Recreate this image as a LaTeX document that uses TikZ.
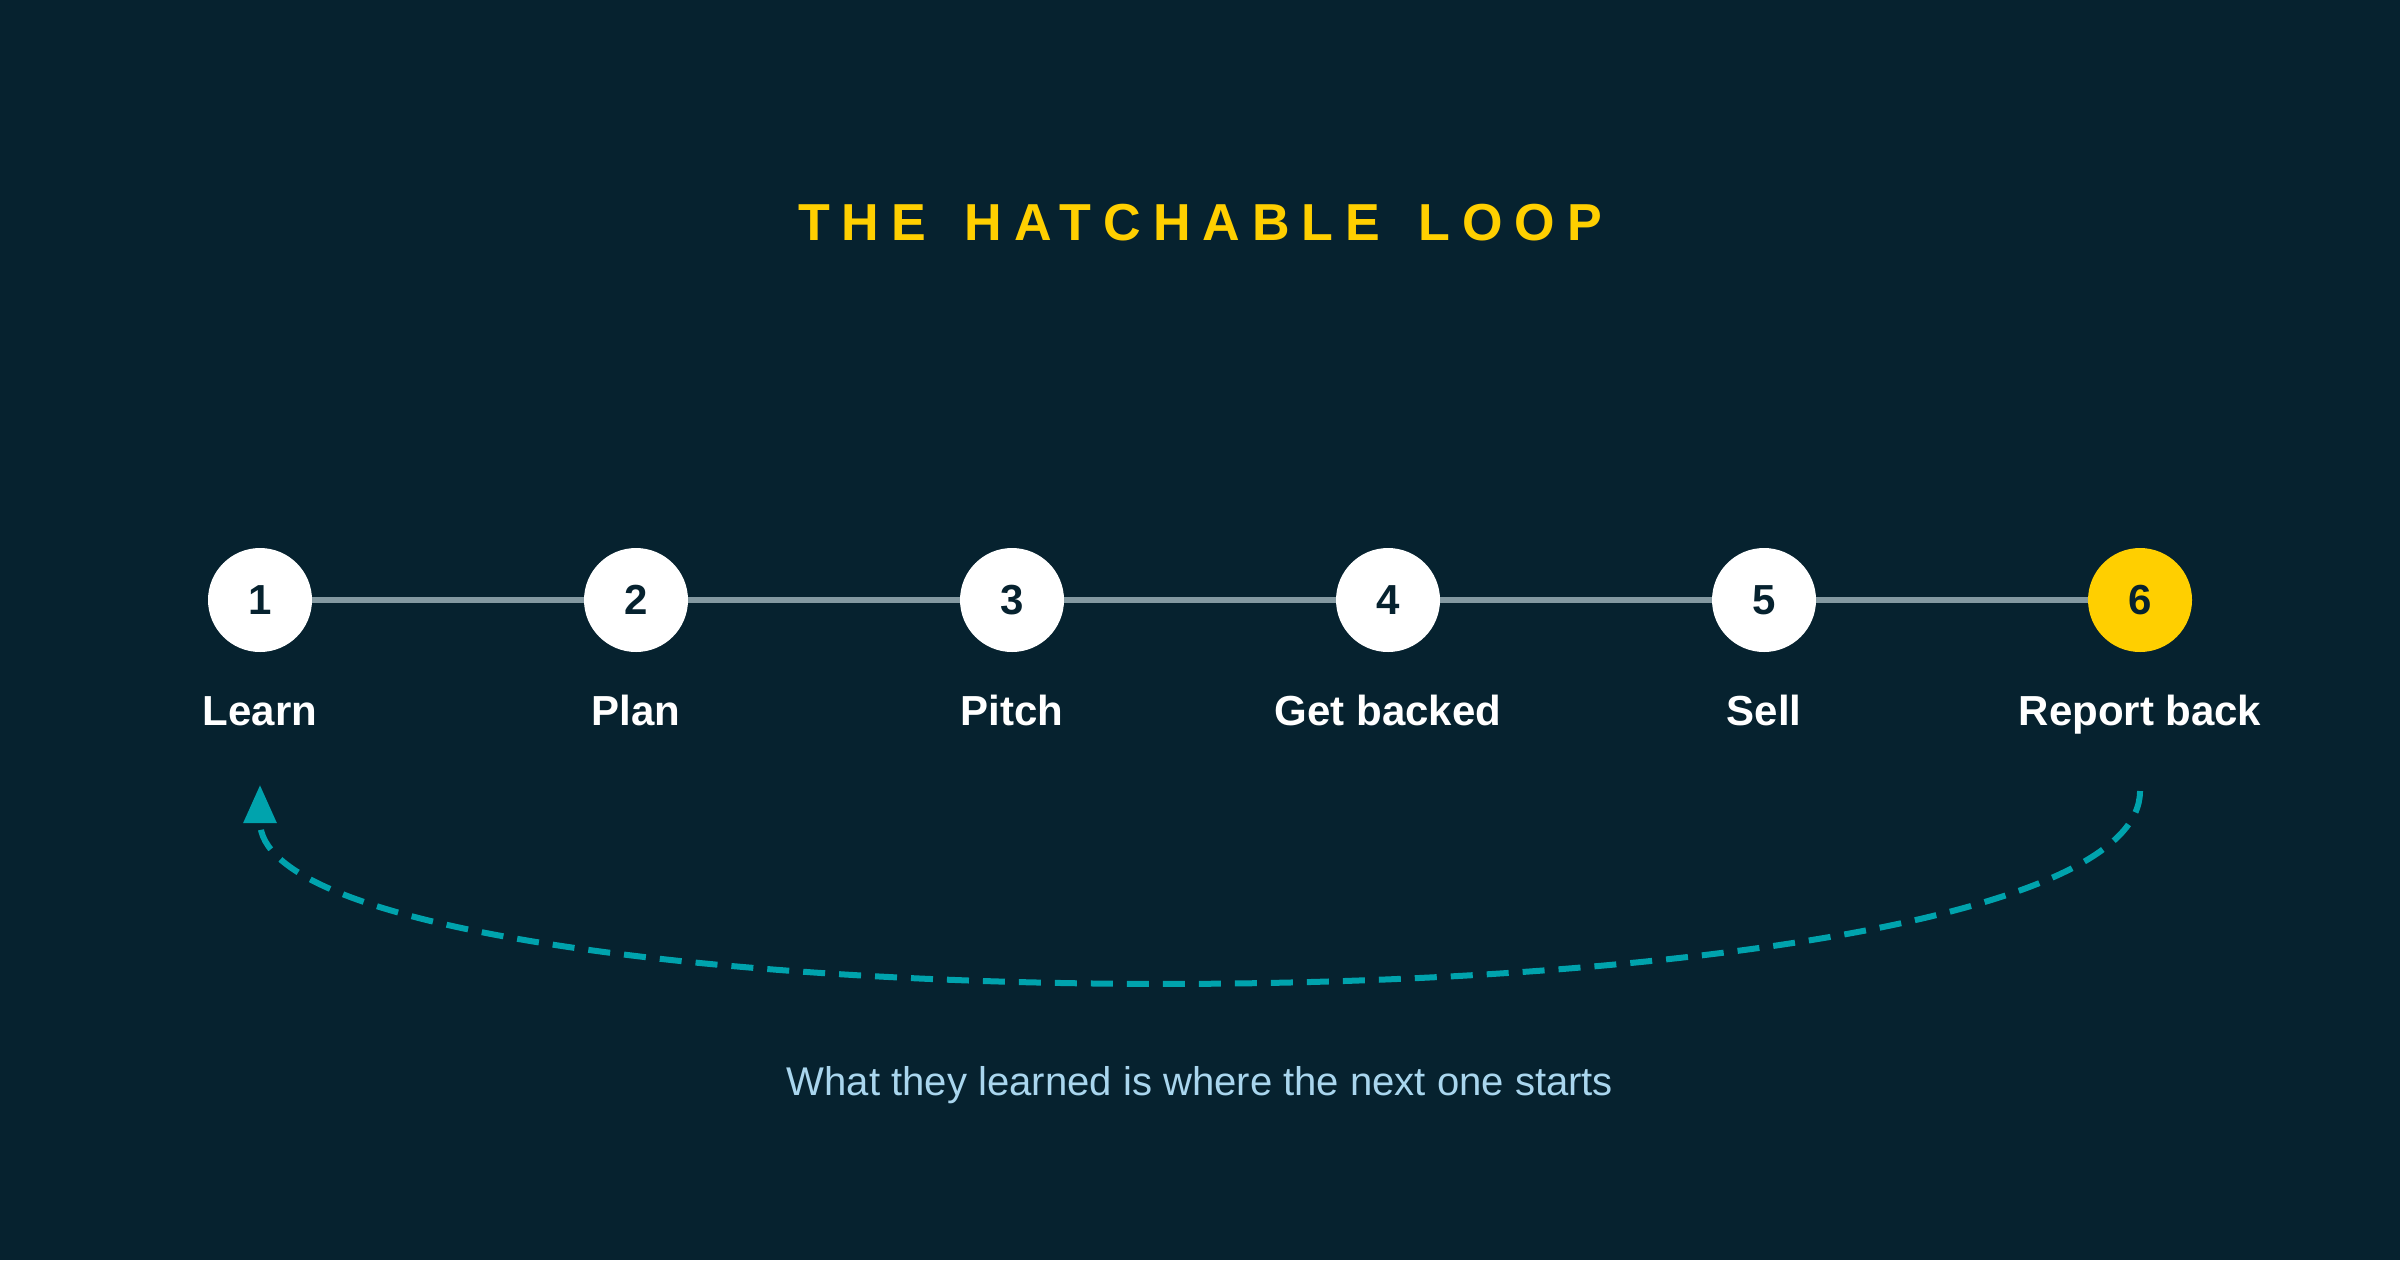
\documentclass[tikz,border=0pt]{standalone}
\usepackage{fontspec}
\setmainfont{Liberation Sans}
\newfontfamily\titlefont[LetterSpace=23,WordSpace=1.46]{Liberation Sans}
\usepackage{tikz}
\usetikzlibrary{arrows.meta,positioning,calc}
\definecolor{bgnavy}{HTML}{06222F}
\definecolor{hyellow}{HTML}{FFCF00}
\definecolor{linkgray}{HTML}{8399A1}
\definecolor{loopteal}{HTML}{00A3AD}
\definecolor{capblue}{HTML}{A9D6EE}
\tikzstyle{stepdot}=[circle,fill=white,minimum size=1.04cm,inner sep=0pt,outer sep=0pt,text=bgnavy,font=\fontsize{11.95}{12}\selectfont\bfseries]
\tikzstyle{steplabel}=[anchor=base,text=white,font=\fontsize{11.95}{12}\selectfont\bfseries]
\tikzstyle{link}=[draw=linkgray,line width=0.06cm]
\tikzstyle{loopback}=[draw=loopteal,line width=0.06cm,dash pattern=on 0.22cm off 0.14cm,-{Triangle[length=0.38cm,width=0.32cm]}]

\begin{document}
\begin{tikzpicture}
\fill[bgnavy] (0,0) rectangle (24,12.6);
\useasboundingbox (0,0) rectangle (24,12.6);
% title
\node[anchor=base,text=hyellow,font=\fontsize{14.8}{16}\selectfont\titlefont\bfseries] (title) at (12,10.2) {THE HATCHABLE LOOP};
% the six steps
\node[stepdot] (s1) at (2.6,6.6) {1};
\node[stepdot,right=2.72cm of s1] (s2) {2};
\node[stepdot,right=2.72cm of s2] (s3) {3};
\node[stepdot,right=2.72cm of s3] (s4) {4};
\node[stepdot,right=2.72cm of s4] (s5) {5};
\node[stepdot,fill=hyellow,right=2.72cm of s5] (s6) {6};
\foreach \a/\b in {s1/s2,s2/s3,s3/s4,s4/s5,s5/s6}
  \draw[link] (\a) -- (\b);
\foreach \s/\t in {s1/Learn,s2/Plan,s3/Pitch,s4/Get backed,s5/Sell,s6/Report back}
  \node[steplabel] (l\s) at ($(\s)+(0,-1.25)$) {\t};
% back to the start
\coordinate (loopstart) at ($(s6)+(0,-1.91)$);
\coordinate (loopend) at ($(s1)+(0,-1.85)$);
\draw[loopback] (loopstart) .. controls +(0,-2.55) and +(0,-2.55) .. (loopend);
\node[anchor=base,text=capblue,font=\fontsize{11.4}{13}\selectfont] (caption) at (12,1.65) {What they learned is where the next one starts};
\end{tikzpicture}
\end{document}
